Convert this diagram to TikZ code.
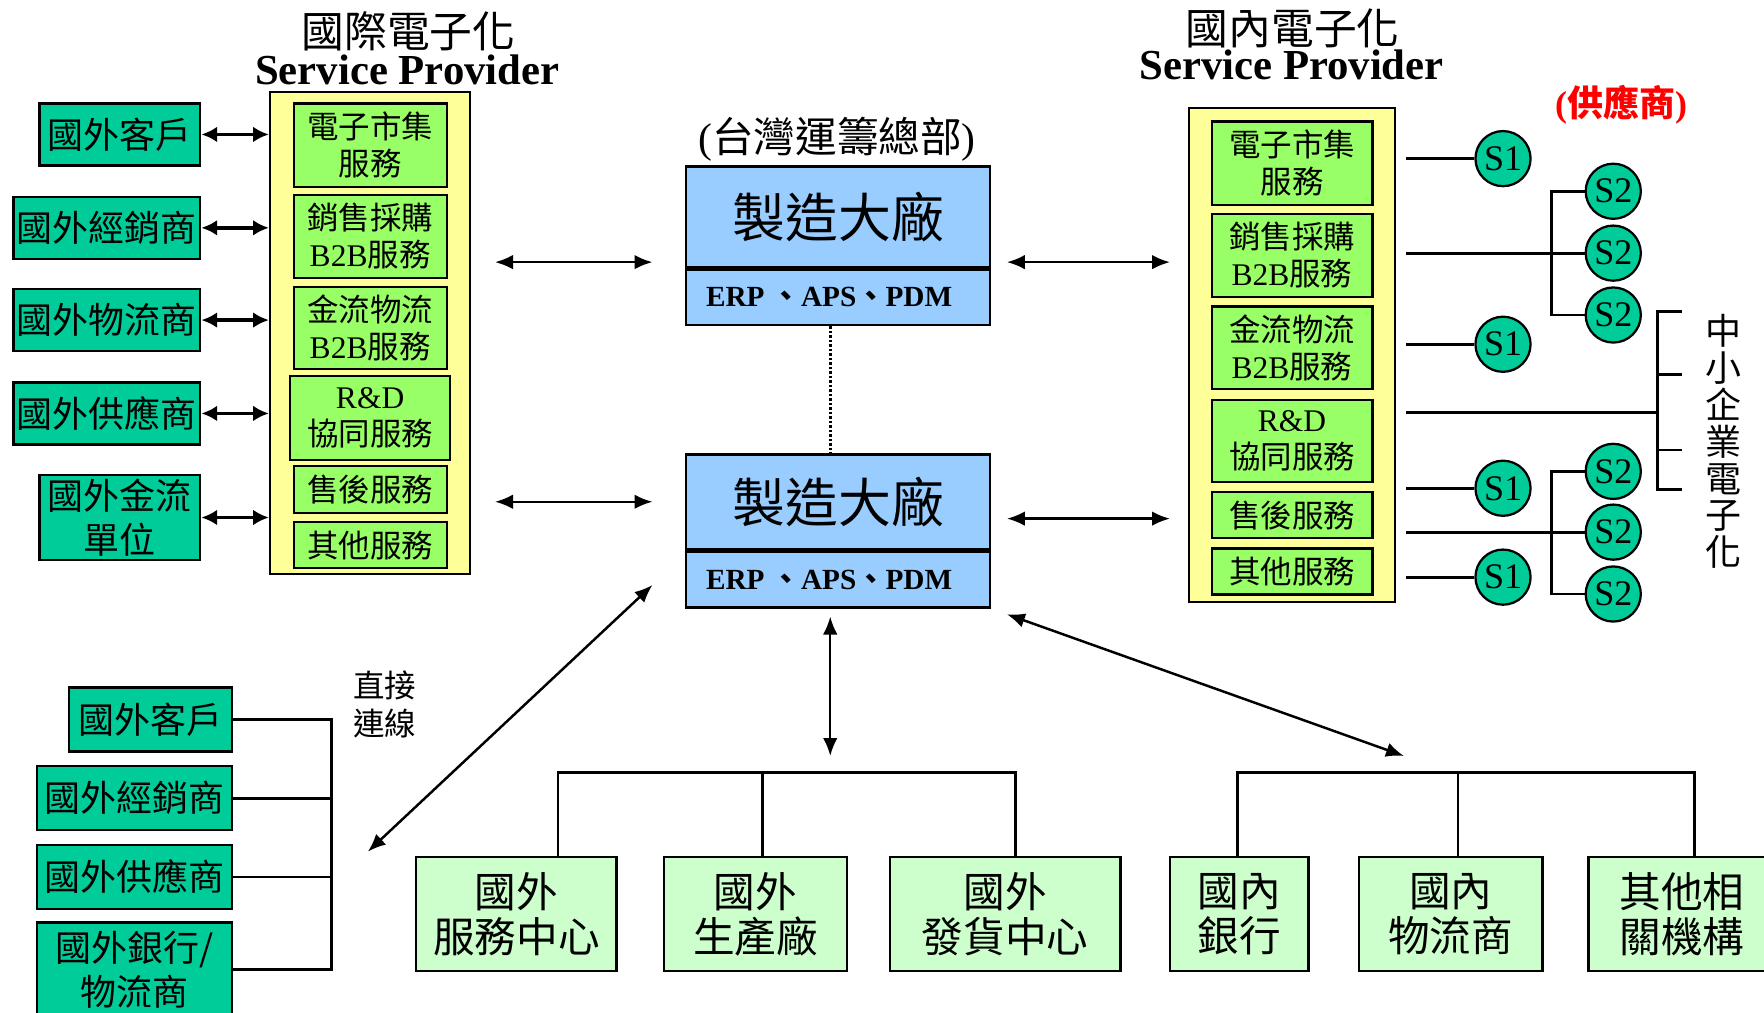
\documentclass[tikz,border=0pt]{standalone}
\usepackage{fontspec}
\setmainfont{Liberation Serif}
\newfontfamily\cjk{Noto Sans CJK TC}
\usetikzlibrary{arrows.meta}
\definecolor{tealc}{HTML}{00CC99}
\definecolor{lgreen}{HTML}{99FF66}
\definecolor{yel}{HTML}{FFFF99}
\definecolor{blu}{HTML}{99CCFF}
\definecolor{pgreen}{HTML}{CCFFCC}
\newcommand{\fsz}[2]{\fontsize{#1}{#2}\selectfont}
\begin{document}
\begin{tikzpicture}[x=1pt,y=-1pt,
  bx/.style={draw, line width=2pt, inner sep=0pt, align=center},
  outbox/.style={bx, fill=tealc, font=\cjk\fsz{32}{39}},
  innbox/.style={bx, fill=lgreen, font=\cjk\fsz{28}{33}},
  spbox/.style={draw, line width=2pt, fill=yel, inner sep=0pt},
  facbox/.style={bx, fill=blu, minimum width=270pt},
  unitbox/.style={bx, fill=pgreen, font=\cjk\fsz{37}{40}, minimum height=101pt},
  sbox/.style={circle, draw, line width=2pt, fill=tealc, minimum size=49pt, inner sep=0pt, font=\fsz{32}{32}},
  ln/.style={line width=2.5pt},
  sarr/.style={line width=3pt, {Latex[length=14pt,width=14pt]}-{Latex[length=14pt,width=14pt]}},
  darr/.style={line width=2.2pt, {Latex[length=16pt,width=13pt]}-{Latex[length=16pt,width=13pt]}},
]
\useasboundingbox (0,0) rectangle (1568,900);

% ---------- left service provider ----------
\node[font=\cjk\fsz{38}{40}] (lt1) at (363,28) {國際電子化};
\node[font=\bfseries\fsz{38}{40}] (lt2) at (362,62) {Service Provider};
\node[spbox, minimum width=178pt, minimum height=428pt] (lsp) at (329,296) {};
\node[innbox, minimum width=136pt, minimum height=74pt] (la) at (329,129) {電子市集\\服務};
\node[innbox, minimum width=136pt, minimum height=74pt] (lb) at (329,210) {銷售採購\\{\rmfamily B2B}服務};
\node[innbox, minimum width=136pt, minimum height=73pt] (lc) at (329,291.5) {金流物流\\{\rmfamily B2B}服務};
\node[innbox, minimum width=142pt, minimum height=75pt] (ld) at (329,371.5) {{\rmfamily R\&D}\\協同服務};
\node[innbox, minimum width=136pt, minimum height=42pt] (le) at (329,435) {售後服務};
\node[innbox, minimum width=136pt, minimum height=41pt] (lf) at (329,484.5) {其他服務};

% ---------- left outside partners ----------
\node[outbox, minimum width=143pt, minimum height=55pt] (L1) at (106.5,119.5) {國外客戶};
\node[outbox, minimum width=166pt, minimum height=55pt] (L2) at (95,202.5) {國外經銷商};
\node[outbox, minimum width=166pt, minimum height=55pt] (L3) at (95,284.5) {國外物流商};
\node[outbox, minimum width=166pt, minimum height=55pt] (L4) at (95,367.5) {國外供應商};
\node[outbox, minimum width=143pt, minimum height=76pt] (L5) at (106.5,460) {國外金流\\單位};
\foreach \n in {L1,L2,L3,L4,L5}
  \draw[sarr] (\n.east) -- (\n.east -| lsp.west);

% ---------- factories ----------
\node[font=\cjk\fsz{37}{40}] (hq) at (744,124) {{\rmfamily(}台灣運籌總部{\rmfamily)}};
\node[facbox, minimum height=89.5pt, font=\cjk\fsz{47}{50}] (f1t) at (745,192.75) {製造大廠};
\node[facbox, minimum height=49.5pt, font=\bfseries\fsz{26}{28}] (f1b) at (745,264.25) {ERP {\cjk 、}APS{\cjk 、}PDM\hspace{16pt}};
\node[facbox, minimum height=84.5pt, font=\cjk\fsz{47}{50}] (f2t) at (745,446.25) {製造大廠};
\node[facbox, minimum height=49.5pt, font=\bfseries\fsz{26}{28}] (f2b) at (745,515.25) {ERP {\cjk 、}APS{\cjk 、}PDM\hspace{16pt}};
\draw[line width=3pt, dash pattern=on 2pt off 2pt] ([xshift=-7pt]f1b.south) -- ([xshift=-7pt]f2t.north);

% ---------- right service provider ----------
\node[font=\cjk\fsz{38}{40}] (rt1) at (1149,25) {國內電子化};
\node[font=\bfseries\fsz{38}{40}] (rt2) at (1148,58) {Service Provider};
\node[spbox, minimum width=183pt, minimum height=439pt] (rsp) at (1148.5,315.5) {};
\node[innbox, minimum width=143pt, minimum height=74pt] (ra) at (1148.5,145) {電子市集\\服務};
\node[innbox, minimum width=143pt, minimum height=74pt] (rb) at (1148.5,227) {銷售採購\\{\rmfamily B2B}服務};
\node[innbox, minimum width=143pt, minimum height=73pt] (rc) at (1148.5,309) {金流物流\\{\rmfamily B2B}服務};
\node[innbox, minimum width=143pt, minimum height=73pt] (rd) at (1148.5,392) {{\rmfamily R\&D}\\協同服務};
\node[innbox, minimum width=143pt, minimum height=41pt] (re) at (1148.5,458) {售後服務};
\node[innbox, minimum width=143pt, minimum height=41pt] (rf) at (1148.5,508) {其他服務};

% ---------- arrows between SPs and factories ----------
\coordinate (a1) at (440,233); \coordinate (a2) at (580,233);
\coordinate (a3) at (440,446); \coordinate (a4) at (580,446);
\coordinate (a5) at (895,233); \coordinate (a6) at (1040,233);
\coordinate (a7) at (895,461); \coordinate (a8) at (1040,461);
\draw[darr] (a1) -- (a2);
\draw[darr] (a3) -- (a4);
\draw[darr] (a5) -- (a6);
\draw[darr] (a7) -- (a8);

% ---------- suppliers ----------
\node[font=\cjk\bfseries\fsz{32}{34}, text=red] (supl) at (1441,93) {{\rmfamily(}供應商{\rmfamily)}};
\node[sbox] (S1a) at (1336,141) {S1};
\node[sbox] (S1b) at (1336,306) {S1};
\node[sbox] (S1c) at (1336,434) {S1};
\node[sbox] (S1d) at (1336,513) {S1};
\node[sbox] (S2a) at (1434,170) {S2};
\node[sbox] (S2b) at (1434,225) {S2};
\node[sbox] (S2c) at (1434,280) {S2};
\node[sbox] (S2d) at (1434,419) {S2};
\node[sbox] (S2e) at (1434,473) {S2};
\node[sbox] (S2f) at (1434,528) {S2};
\coordinate (rs) at (1250,0);
\draw[ln] (rs |- S1a) -- (S1a);
\draw[ln] (rs |- S2b) -- (S2b);
\draw[ln] (S2a.west) -| (S2c.west -| 1379,0) -- (S2c.west);
\draw[ln] (rs |- S1b) -- (S1b);
\draw[ln] (rs |- S1c) -- (S1c);
\draw[ln] (rs |- S2e) -- (S2e);
\draw[ln] (S2d.west) -| (S2f.west -| 1379,0) -- (S2f.west);
\draw[ln] (rs |- S1d) -- (S1d);

% SME bracket
\node[font=\cjk\fsz{32}{32.7}, align=center] (sme) at (1532,392.5) {中\\小\\企\\業\\電\\子\\化};
\coordinate (bt) at (1473,277); \coordinate (bb) at (1473,435);
\draw[ln] (1495,277) -- (bt) -- (bb) -- (1495,435);
\draw[ln] (1473,333) -- (1495,333);
\draw[ln] (1473,400) -- (1495,400);
\draw[ln] (rs |- 0,367) -- (1473,367);

% ---------- lower left direct connection ----------
\node[outbox, minimum width=145pt, minimum height=57pt] (BL1) at (133.5,639.5) {國外客戶};
\node[outbox, minimum width=173pt, minimum height=57pt] (BL2) at (119.5,709.5) {國外經銷商};
\node[outbox, minimum width=173pt, minimum height=57pt] (BL3) at (119.5,779.5) {國外供應商};
\node[outbox, minimum width=173pt, minimum height=84pt] (BL4) at (119.5,862) {國外銀行/\\物流商};
\coordinate (vb) at (295,0);
\draw[ln] (BL1.east) -- (BL1.east -| vb) -- (BL4.east -| vb) -- (BL4.east);
\draw[ln] (BL2.east) -- (BL2.east -| vb);
\draw[ln] (BL3.east) -- (BL3.east -| vb);
\node[font=\cjk\fsz{28}{34}, align=center] (dc) at (342,626) {直接\\連線};

\coordinate (d1) at (580,520); \coordinate (d2) at (327,757);
\draw[darr] (d1) -- (d2);
\coordinate (v1) at (738,548); \coordinate (v2) at (738,672);
\draw[darr] (v1) -- (v2);
\coordinate (r1) at (895,546); \coordinate (r2) at (1248,672);
\draw[darr] (r1) -- (r2);

% ---------- lower units ----------
\node[unitbox, minimum width=178pt] (B1) at (459,812.5) {國外\\服務中心};
\node[unitbox, minimum width=163pt] (B2) at (671.5,812.5) {國外\\生產廠};
\node[unitbox, minimum width=205pt] (B3) at (893.5,812.5) {國外\\發貨中心};
\node[unitbox, minimum width=123pt] (B4) at (1101.5,812.5) {國內\\銀行};
\node[unitbox, minimum width=163pt] (B5) at (1289.5,812.5) {國內\\物流商};
\node[unitbox, minimum width=166pt] (B6) at (1495,812.5) {其他相\\關機構};
\coordinate (tl1) at (496,687); \coordinate (tl2) at (903,687);
\draw[ln] (tl1 |- B1.north) -- (tl1) -- (tl2) -- (tl2 |- B3.north);
\draw[ln] (678,687) -- (678,687 |- B2.north);
\coordinate (tr1) at (1100,687); \coordinate (tr2) at (1506,687);
\draw[ln] (tr1 |- B4.north) -- (tr1) -- (tr2) -- (tr2 |- B6.north);
\draw[ln] (1296,687) -- (1296,687 |- B5.north);
\end{tikzpicture}
\end{document}
